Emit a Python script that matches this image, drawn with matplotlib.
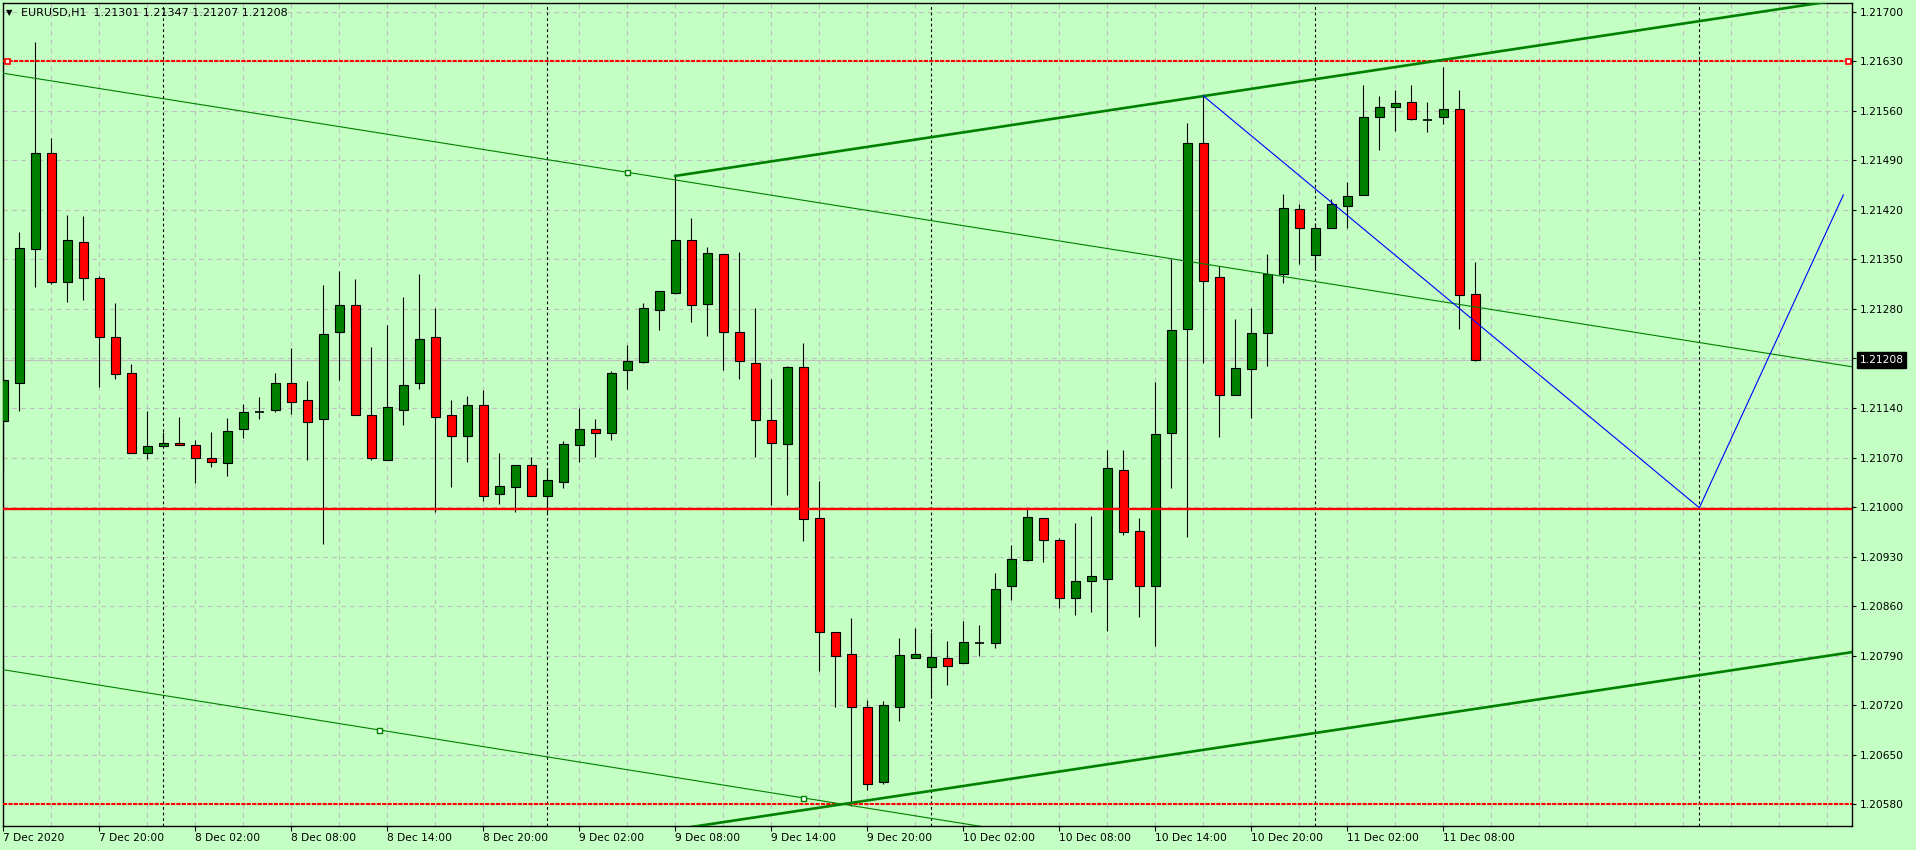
import matplotlib
matplotlib.use("Agg")
import matplotlib.pyplot as plt
import matplotlib.transforms as mtransforms
from matplotlib.ticker import MultipleLocator
import numpy as np
import pandas as pd

# EURUSD H1 bars, first bar 7 Dec 2020 14:00
opens = [1.21122, 1.21175, 1.21364, 1.21501, 1.21318, 1.21374, 1.21323, 1.21241, 1.21190, 1.21076,
         1.21086, 1.21090, 1.21087, 1.21069, 1.21062, 1.21110, 1.21134, 1.21137, 1.21175, 1.21151,
         1.21124, 1.21247, 1.21285, 1.21130, 1.21067, 1.21137, 1.21175, 1.21240, 1.21130, 1.21101,
         1.21144, 1.21018, 1.21029, 1.21060, 1.21016, 1.21035, 1.21087, 1.21110, 1.21105, 1.21193,
         1.21205, 1.21279, 1.21303, 1.21378, 1.21287, 1.21357, 1.21248, 1.21203, 1.21123, 1.21089,
         1.21198, 1.20984, 1.20823, 1.20792, 1.20718, 1.20612, 1.20718, 1.20786, 1.20774, 1.20786,
         1.20779, 1.20808, 1.20808, 1.20889, 1.20925, 1.20984, 1.20954, 1.20871, 1.20896, 1.20899,
         1.21052, 1.20966, 1.20889, 1.21104, 1.21252, 1.21515, 1.21325, 1.21159, 1.21195, 1.21246,
         1.21330, 1.21421, 1.21356, 1.21395, 1.21426, 1.21441, 1.21551, 1.21566, 1.21572, 1.21547,
         1.21551, 1.21563, 1.21301]
highs = [1.21188, 1.21388, 1.21657, 1.21521, 1.21413, 1.21411, 1.21326, 1.21288, 1.21202, 1.21136,
         1.21106, 1.21127, 1.21095, 1.21106, 1.21126, 1.21146, 1.21156, 1.21189, 1.21225, 1.21178,
         1.21314, 1.21334, 1.21322, 1.21226, 1.21257, 1.21297, 1.21329, 1.21281, 1.21151, 1.21157,
         1.21165, 1.21076, 1.21060, 1.21071, 1.21055, 1.21093, 1.21140, 1.21124, 1.21192, 1.21229,
         1.21288, 1.21305, 1.21468, 1.21408, 1.21367, 1.21357, 1.21360, 1.21281, 1.21181, 1.21200,
         1.21232, 1.21037, 1.20823, 1.20843, 1.20727, 1.20726, 1.20815, 1.20829, 1.20823, 1.20811,
         1.20839, 1.20833, 1.20907, 1.20946, 1.20997, 1.20984, 1.20956, 1.20977, 1.20987, 1.21081,
         1.21081, 1.20985, 1.21177, 1.21350, 1.21543, 1.21581, 1.21340, 1.21266, 1.21281, 1.21357,
         1.21442, 1.21428, 1.21401, 1.21435, 1.21460, 1.21596, 1.21581, 1.21590, 1.21596, 1.21572,
         1.21622, 1.21589, 1.21347]
lows = [1.21049, 1.21136, 1.21311, 1.21315, 1.21290, 1.21292, 1.21170, 1.21181, 1.21076, 1.21068,
        1.21085, 1.21087, 1.21034, 1.21056, 1.21044, 1.21097, 1.21124, 1.21135, 1.21131, 1.21066,
        1.20948, 1.21180, 1.21130, 1.21066, 1.21067, 1.21116, 1.21167, 1.20993, 1.21029, 1.21064,
        1.21008, 1.21005, 1.20993, 1.21016, 1.20990, 1.21027, 1.21064, 1.21071, 1.21095, 1.21167,
        1.21203, 1.21250, 1.21301, 1.21262, 1.21242, 1.21193, 1.21181, 1.21071, 1.21003, 1.21017,
        1.20952, 1.20769, 1.20718, 1.20578, 1.20600, 1.20608, 1.20697, 1.20786, 1.20732, 1.20749,
        1.20779, 1.20790, 1.20801, 1.20869, 1.20924, 1.20923, 1.20858, 1.20848, 1.20852, 1.20825,
        1.20961, 1.20844, 1.20804, 1.21027, 1.20958, 1.21204, 1.21099, 1.21158, 1.21126, 1.21199,
        1.21316, 1.21344, 1.21337, 1.21395, 1.21395, 1.21441, 1.21504, 1.21532, 1.21547, 1.21530,
        1.21542, 1.21251, 1.21207]
closes = [1.21179, 1.21366, 1.21501, 1.21318, 1.21378, 1.21323, 1.21241, 1.21188, 1.21077, 1.21086,
          1.21090, 1.21087, 1.21070, 1.21063, 1.21108, 1.21135, 1.21134, 1.21176, 1.21149, 1.21120,
          1.21244, 1.21285, 1.21130, 1.21069, 1.21141, 1.21173, 1.21237, 1.21127, 1.21100, 1.21144,
          1.21015, 1.21030, 1.21060, 1.21016, 1.21038, 1.21089, 1.21110, 1.21105, 1.21189, 1.21206,
          1.21282, 1.21305, 1.21378, 1.21285, 1.21359, 1.21248, 1.21206, 1.21123, 1.21090, 1.21198,
          1.20983, 1.20823, 1.20790, 1.20718, 1.20608, 1.20720, 1.20791, 1.20793, 1.20788, 1.20776,
          1.20810, 1.20808, 1.20884, 1.20926, 1.20986, 1.20954, 1.20872, 1.20896, 1.20902, 1.21055,
          1.20965, 1.20889, 1.21103, 1.21250, 1.21515, 1.21319, 1.21159, 1.21196, 1.21246, 1.21330,
          1.21422, 1.21394, 1.21394, 1.21428, 1.21439, 1.21551, 1.21566, 1.21571, 1.21549, 1.21547,
          1.21563, 1.21299, 1.21208]

symbol = "EURUSD,H1"
first_bar = "2020-12-07 14:00"

# horizontal levels
level_top = 1.21630
level_mid = 1.20997
level_low = 1.20580
bid = closes[-1]

# trend lines, anchors as (bar, price)
thin_upper = [(0, 1.21613), (39, 1.21473)]
thin_lower = [(23.5, 1.20685), (50, 1.20589)]
thick_upper = [(42, 1.21468), (90, 1.21632)]
thick_lower = [(53, 1.20582), (90, 1.20708)]
zigzag_bars = [75, 106, 115]
zigzag_prices = [1.21581, 1.20999, 1.21441]

bg = "#C4FFC4"
green = "#008000"
red = "#FF0000"
fs = 7.7

fig = plt.figure(figsize=(19.16, 8.5), dpi=100, facecolor=bg)
ax = fig.add_axes([3 / 1916, 24 / 850, 1849 / 1916, 823 / 850])
ax.set_facecolor(bg)

xmin, xmax = -0.02, 115.54
ax.set_xlim(xmin, xmax)
ax.set_ylim(1.205493, 1.217123)

x = np.arange(len(opens))
o = np.array(opens); h = np.array(highs); l = np.array(lows); c = np.array(closes)
w = 0.58

# wicks then bodies
ax.vlines(x, l, h, color="black", lw=0.8, zorder=3)
up = c > o
dn = c < o
doji = c == o
ax.bar(x[up], (c - o)[up], bottom=o[up], width=w, color=green, edgecolor="black", lw=0.8, zorder=4)
ax.bar(x[dn], (o - c)[dn], bottom=c[dn], width=w, color=red, edgecolor="black", lw=0.8, zorder=4)
ax.hlines(c[doji], x[doji] - w / 2, x[doji] + w / 2, color="black", lw=1.2, zorder=4)

# grid
ax.yaxis.tick_right()
yticks = [1.20580 + 0.0007 * i for i in range(17)]
ax.set_yticks(yticks)
ax.set_yticklabels([f"{v:.5f}" for v in yticks])
ax.grid(axis="y", color="#BDBDBD", ls=(0, (4, 4)), lw=0.8, zorder=0)

times = pd.date_range(first_bar, periods=int(xmax) + 1, freq="h")
xt = list(range(0, len(opens), 6))
xl = []
for i in xt:
    t = times[i]
    xl.append(f"{t.day} {t:%b %Y}" if i == 0 else f"{t.day} {t:%b %H:%M}")
ax.set_xticks(xt)
ax.set_xticklabels(xl)
for lbl in ax.get_xticklabels():
    lbl.set_ha("left")
ax.xaxis.set_minor_locator(MultipleLocator(3))
ax.xaxis.remove_overlapping_locs = False
ax.grid(axis="x", which="minor", color="#BDBDBD", ls=(0, (4, 4)), lw=0.8, zorder=0)
ax.set_axisbelow(True)

ax.tick_params(axis="y", which="major", direction="out", length=3, width=0.8, pad=3, labelsize=fs)
ax.tick_params(axis="x", which="major", direction="out", length=3.6, width=0.8, pad=1.5, labelsize=fs)
ax.tick_params(axis="x", which="minor", length=0)
for s in ax.spines.values():
    s.set_color("black")
    s.set_linewidth(1)

# day separators
for i, t in enumerate(times):
    if t.hour == 0:
        ax.axvline(i, color="black", ls=(0, (2.5, 2.5)), lw=0.8, zorder=2)

# bid line
ax.axhline(bid, color="#C0C0C0", lw=0.8, zorder=2)

# horizontal levels
ax.axhline(level_mid, color=red, lw=1.7, zorder=6)
for lv in (level_top, level_low):
    ax.axhline(lv, color=red, lw=1.5, ls=(0, (2, 0.6)), zorder=6)
ax.plot([0.002, 0.998], [level_top, level_top], ls="none", marker="s", ms=3.6, mfc="white",
        mec=red, mew=1.2, transform=mtransforms.blended_transform_factory(ax.transAxes, ax.transData),
        zorder=7, clip_on=False)


def line_at(pts, xs):
    (x1, y1), (x2, y2) = pts
    k = (y2 - y1) / (x2 - x1)
    return [y1 + k * (xx - x1) for xx in xs]


ax.plot([xmin, xmax], line_at(thin_upper, [xmin, xmax]), color=green, lw=0.8, zorder=6)
ax.plot([xmin, xmax], line_at(thin_lower, [xmin, xmax]), color=green, lw=0.8, zorder=6)
ax.plot([42, xmax], line_at(thick_upper, [42, xmax]), color=green, lw=1.9, zorder=6)
ax.plot([42, xmax], line_at(thick_lower, [42, xmax]), color=green, lw=1.9, zorder=6)
ax.plot([thin_upper[1][0]], [thin_upper[1][1]], ls="none", marker="s", ms=3.6, mfc="white",
        mec=green, mew=1, zorder=7)
ax.plot([p[0] for p in thin_lower], [p[1] for p in thin_lower], ls="none", marker="s", ms=3.6,
        mfc="white", mec=green, mew=1, zorder=7)
ax.plot(zigzag_bars, zigzag_prices, color="#0000FF", lw=0.8, zorder=6)

# bid price box on the price scale
ax.annotate(f"{bid:.5f}", xy=(1, bid), xycoords=("axes fraction", "data"), xytext=(5.5, 0),
            textcoords="offset points", ha="left", va="center", color="white", fontsize=fs,
            bbox=dict(boxstyle="square,pad=0.25", facecolor="black", edgecolor="black"),
            annotation_clip=False, zorder=8)

# header
fig.text(6 / 1916, 1 - 12.5 / 850, "\u25bc", fontsize=6, va="center", ha="left")
fig.text(21 / 1916, 1 - 12.7 / 850,
         f"{symbol}  {opens[-1]:.5f} {highs[-1]:.5f} {lows[-1]:.5f} {closes[-1]:.5f}",
         fontsize=8, va="center", ha="left")

fig.savefig("out.png", dpi=100, facecolor=bg)
